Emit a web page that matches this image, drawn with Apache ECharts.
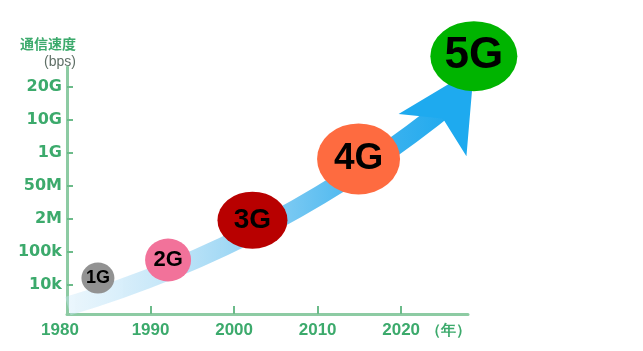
<!DOCTYPE html>
<html>
<head>
<meta charset="utf-8">
<script src="https://cdn.jsdelivr.net/npm/echarts@6/dist/echarts.min.js"></script>
<style>
  html, body { margin: 0; padding: 0; background: #fff; }
  #chart { width: 643px; height: 351px; }
</style>
</head>
<body>
<div id="chart"></div>
<script>
// generations and where each bubble sits (year, speed level)
var genNames = ['1G', '2G', '3G', '4G', '5G'];
var genYears = [1983.7, 1992.1, 2002.2, 2014.9, 2028.7];
var genLevels = [1.19, 1.74, 2.95, 4.81, 7.93];

// axis ticks
var speedLabels = ['10k', '100k', '2M', '50M', '1G', '10G', '20G'];
var speedTicks = [1, 2, 3, 4, 5, 6, 7];
var yearLabels = [1980, 1990, 2000, 2010, 2020];
var yearTicks = [1990, 2000, 2010, 2020];

// the growth arrow: shaft start/end and head tip
var arrowShaft = [[1980.1, 0.34], [2026.5, 6.61]];
var arrowHead = [[2028.7, 7.54]];

var green = '#3caa6c';
var genColors = ['#929292', '#f2729a', '#b80000', '#fe6b40', '#00b400'];
var genSizes = [[33, 31], [46, 43], [70, 57], [83, 71], [87, 70]];
var genFonts = [18, 22, 28, 37, 44];

var chart = echarts.init(document.getElementById('chart'));

var bubbles = [];
for (var i = 0; i < genNames.length; i++) {
    bubbles.push({
        name: genNames[i],
        value: [genYears[i], genLevels[i]],
        symbolSize: genSizes[i],
        itemStyle: { color: genColors[i] },
        label: { fontSize: genFonts[i] }
    });
}

var option = {
    animation: false,
    grid: { left: 67, right: 175, top: 67, bottom: 37 },
    xAxis: {
        type: 'value',
        min: 1980,
        max: 2028,
        splitLine: { show: false },
        axisLine: { lineStyle: { color: '#8dcba3', width: 3 } },
        axisTick: {
            inside: true, length: 8,
            customValues: yearTicks,
            lineStyle: { color: '#6cbb8a', width: 2 }
        },
        axisLabel: {
            customValues: yearLabels,
            formatter: function (v) {
                return v === 1980 ? '{o|1980}' : String(v);
            },
            rich: { o: { padding: [0, 14, 0, 0] } },
            color: green, fontWeight: 'bold', fontSize: 17,
            fontFamily: 'Liberation Sans', margin: 8
        },
        name: '（年）',
        nameLocation: 'end',
        nameGap: -48,
        nameTextStyle: {
            color: green, fontWeight: 'bold', fontSize: 15,
            verticalAlign: 'top', padding: [9, 0, 0, 0]
        }
    },
    yAxis: {
        type: 'value',
        min: 0.1,
        max: 7.6,
        splitLine: { show: false },
        axisLine: { lineStyle: { color: '#8dcba3', width: 3 } },
        axisTick: {
            inside: true, length: 6,
            customValues: speedTicks,
            lineStyle: { color: '#6cbb8a', width: 2 }
        },
        axisLabel: {
            customValues: speedTicks,
            formatter: function (v) { return speedLabels[Math.round(v) - 1]; },
            color: green, fontWeight: 'bold', fontSize: 16,
            fontFamily: 'DejaVu Sans', margin: 5
        },
        name: '{a|通信速度}\n{b|(bps)}',
        nameLocation: 'end',
        nameGap: -4,
        nameTextStyle: {
            align: 'right',
            padding: [0, -9, 0, 0],
            rich: {
                a: { color: green, fontWeight: 'bold', fontSize: 14, lineHeight: 20, align: 'right',
                     fontFamily: 'Noto Sans CJK SC' },
                b: { color: '#5f6f66', fontSize: 14, lineHeight: 17, align: 'right',
                     fontFamily: 'Liberation Sans' }
            }
        }
    },
    series: [
        {
            type: 'lines',
            coordinateSystem: 'cartesian2d',
            clip: false,
            symbol: ['none', 'none'],
            lineStyle: {
                width: 19,
                curveness: -0.1,
                opacity: 1,
                color: new echarts.graphic.LinearGradient(0, 0, 1, 0, [
                    { offset: 0, color: 'rgba(205,233,249,0.35)' },
                    { offset: 0.4, color: '#a6daf5' },
                    { offset: 0.75, color: '#45b5ef' },
                    { offset: 1, color: '#1aa8ee' }
                ])
            },
            data: [{ coords: arrowShaft }]
        },
        {
            type: 'scatter',
            clip: false,
            symbol: 'arrow',
            symbolSize: [60, 78],
            symbolRotate: -32,
            itemStyle: { color: '#1eaaef', opacity: 1 },
            data: arrowHead
        },
        {
            type: 'scatter',
            clip: false,
            itemStyle: { opacity: 1 },
            label: {
                show: true,
                position: 'inside',
                formatter: '{b}',
                color: '#000',
                fontWeight: 'bold',
                fontFamily: 'Liberation Sans'
            },
            data: bubbles
        }
    ]
};

chart.setOption(option);
</script>
</body>
</html>
